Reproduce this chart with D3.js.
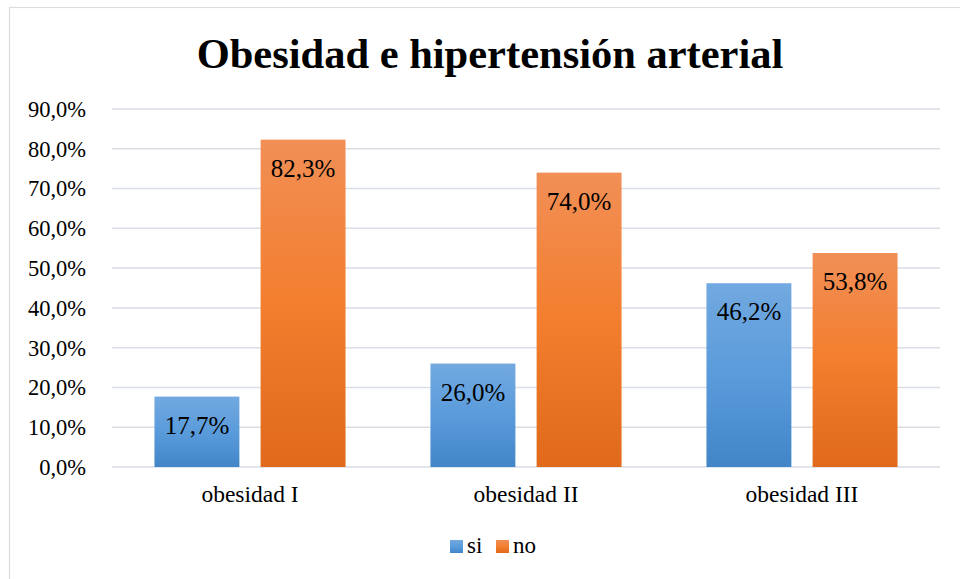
<!DOCTYPE html>
<meta charset="utf-8">
<script src="https://d3js.org/d3.v7.min.js"></script>
<style>
  body { margin: 0; background: #fff; }
  svg text { font-family: "Liberation Serif", "Times New Roman", serif !important; fill: #000; }
</style>
<div id="chart"></div>
<script>
// data
var categories = ["obesidad I", "obesidad II", "obesidad III"];
var seriesNames = ["si", "no"];
var siValues = [17.7, 26.0, 46.2];
var noValues = [82.3, 74.0, 53.8];
var yTicks = [0, 10, 20, 30, 40, 50, 60, 70, 80, 90];

var W = 960, H = 579;
var margin = {top: 109, right: 20, bottom: 112, left: 112},
    width = 940 - margin.left,
    height = 467 - margin.top;

var svg = d3.select("#chart").append("svg")
    .attr("width", W)
    .attr("height", H)
    .attr("font-family", "'Liberation Serif', serif");

// chart border
svg.append("rect")
    .attr("x", 9.5).attr("y", 7.5)
    .attr("width", W).attr("height", H)
    .attr("fill", "none")
    .attr("stroke", "#dcdcdc")
    .attr("stroke-width", 1.2);

// gradients
var defs = svg.append("defs");
function grad(id, stops) {
  var g = defs.append("linearGradient").attr("id", id)
    .attr("x1", 0).attr("y1", 0).attr("x2", 0).attr("y2", 1);
  stops.forEach(function(s) {
    g.append("stop").attr("offset", s[0]).attr("stop-color", s[1]);
  });
}
grad("g-si", [[0, "#72a9e0"], [0.5, "#5a9bdb"], [1, "#4286c8"]]);
grad("g-no", [[0, "#f18f56"], [0.5, "#f37e2e"], [1, "#e0691c"]]);

var g = svg.append("g")
    .attr("transform", "translate(" + margin.left + "," + margin.top + ")");

var y = d3.scaleLinear().domain([0, 90]).range([height, 0]);
var x0 = d3.scaleBand().domain(categories).range([0, width]);
var x1 = d3.scaleBand().domain(seriesNames).range([0, x0.bandwidth()])
    .paddingInner(0.2).paddingOuter(0.4);

// gridlines
g.selectAll(".grid")
  .data(yTicks)
  .enter().append("line")
    .attr("x1", 0).attr("x2", width)
    .attr("y1", function(d) { return y(d); })
    .attr("y2", function(d) { return y(d); })
    .attr("stroke", "#d9dde4")
    .attr("stroke-width", 1.5);

// y axis labels
var yAxis = g.append("g")
    .call(d3.axisLeft(y).tickValues(yTicks).tickSize(0).tickPadding(26)
      .tickFormat(function(d) { return d3.format(".1f")(d).replace(".", ",") + "%"; }));
yAxis.attr("font-family", null).attr("font-size", 22.5);
yAxis.select(".domain").remove();
yAxis.selectAll("text").attr("dy", "0.33em");

// x axis labels
var xAxis = g.append("g")
    .attr("transform", "translate(0," + height + ")")
    .call(d3.axisBottom(x0).tickSize(0).tickPadding(18));
xAxis.attr("font-family", null).attr("font-size", 23.5);
xAxis.select(".domain").remove();

// bars
var rows = categories.map(function(c, i) {
  return {cat: c, vals: [{key: "si", v: siValues[i]}, {key: "no", v: noValues[i]}]};
});

var groups = g.selectAll(".grp")
  .data(rows)
  .enter().append("g")
    .attr("transform", function(d) { return "translate(" + x0(d.cat) + ",0)"; });

groups.selectAll("rect")
  .data(function(d) { return d.vals; })
  .enter().append("rect")
    .attr("x", function(d) { return x1(d.key); })
    .attr("width", x1.bandwidth())
    .attr("y", function(d) { return y(d.v); })
    .attr("height", function(d) { return height - y(d.v); })
    .attr("fill", function(d) { return "url(#g-" + d.key + ")"; });

groups.selectAll(".lbl")
  .data(function(d) { return d.vals; })
  .enter().append("text")
    .attr("x", function(d) { return x1(d.key) + x1.bandwidth() / 2; })
    .attr("y", function(d) { return y(d.v) + 37; })
    .attr("text-anchor", "middle")
    .attr("font-size", 25)
    .text(function(d) { return d3.format(".1f")(d.v).replace(".", ",") + "%"; });

// title
svg.append("text")
    .attr("x", 490).attr("y", 68)
    .attr("text-anchor", "middle")
    .attr("font-size", 42.5)
    .attr("font-weight", "bold")
    .text("Obesidad e hipertensión arterial");

// legend
var legendX = [450, 496];
var legend = svg.selectAll(".legend")
  .data(seriesNames)
  .enter().append("g")
    .attr("transform", function(d, i) { return "translate(" + legendX[i] + ",540)"; });
legend.append("rect")
    .attr("width", 13).attr("height", 13)
    .attr("fill", function(d) { return "url(#g-" + d + ")"; });
legend.append("text")
    .attr("x", 17).attr("y", 13)
    .attr("font-size", 23)
    .text(function(d) { return d; });
</script>
